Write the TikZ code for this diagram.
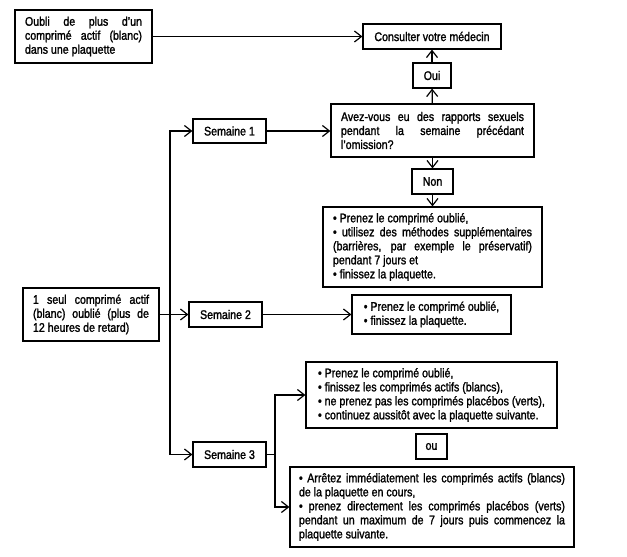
\documentclass[tikz,border=0pt]{standalone}
\usepackage{fontspec}
\setmainfont{Liberation Sans}[FakeStretch=0.85,FakeBold=1.5]
\usetikzlibrary{arrows.meta}
\hyphenpenalty=10000
\exhyphenpenalty=10000
\begin{document}
\begin{tikzpicture}[x=1pt,y=-1pt,
  every node/.style={font=\fontsize{12.5}{14}\selectfont},
  box/.style={draw, line width=1.2pt, inner xsep=10pt, inner ysep=2pt, anchor=center},
  jbox/.style={box, align=justify},
  lbox/.style={box, align=left},
  cbox/.style={box, align=center},
  conn/.style={line width=1.2pt},
  arr/.style={conn, -{Straight Barb[length=7pt,width=11pt,line width=1.2pt]}}]
\useasboundingbox (0,0) rectangle (627,557);

\node[jbox, text width=117pt, minimum height=53pt] (A) at (83.5,36.5)
  {Oubli de plus d'un\linebreak comprimé actif (blanc)\linebreak dans une plaquette};
\node[cbox, minimum width=138pt, minimum height=25pt] (C) at (432,36.5) {Consulter votre médecin};
\node[cbox, inner xsep=2pt, minimum width=38pt, minimum height=25pt] (Oui) at (432,75.5) {Oui};
\node[jbox, text width=183pt, minimum height=53pt] (Q) at (432.5,130.5)
  {Avez-vous eu des rapports sexuels\linebreak pendant la semaine précédant\linebreak l'omission?};
\node[cbox, inner xsep=2pt, minimum width=41pt, minimum height=25pt] (Non) at (432.5,181.5) {Non};
\node[jbox, text width=199pt, minimum height=80pt] (B1) at (432.5,247)
  {• Prenez le comprimé oublié,\\ • utilisez des méthodes supplémentaires\linebreak (barrières, par exemple le préservatif)\linebreak pendant 7 jours et\\ • finissez la plaquette.};

\node[cbox, minimum width=73pt, minimum height=24pt] (S1) at (229.5,131) {Semaine 1};
\node[cbox, minimum width=73pt, minimum height=25pt] (S2) at (225.5,314.5) {Semaine 2};
\node[cbox, minimum width=73pt, minimum height=25pt] (S3) at (229.5,454.5) {Semaine 3};

\node[jbox, text width=116pt, minimum height=53pt] (L) at (91,314.5)
  {1 seul comprimé actif\linebreak (blanc) oublié (plus de\linebreak 12 heures de retard)};

\node[lbox, minimum width=159pt, minimum height=39pt] (B2) at (431.5,314.5)
  {• Prenez le comprimé oublié,\\ • finissez la plaquette.};
\node[lbox, inner xsep=6pt, minimum width=251pt, minimum height=66pt] (B3) at (431.5,395)
  {• Prenez le comprimé oublié,\\ • finissez les comprimés actifs (blancs),\\ • ne prenez pas les comprimés placébos (verts),\\ • continuez aussitôt avec la plaquette suivante.};
\node[cbox, inner xsep=2pt, minimum width=31pt, minimum height=25pt] (ou) at (431.5,446.5) {ou};
\node[jbox, inner xsep=9pt, text width=266pt, minimum height=80pt] (B4) at (432,507)
  {• Arrêtez immédiatement les comprimés actifs (blancs)\linebreak de la plaquette en cours,\\ • prenez directement les comprimés placébos (verts)\linebreak pendant un maximum de 7 jours puis commencez la\linebreak plaquette suivante.};

\coordinate (t) at (170,314.5);
\coordinate (f) at (275,454.5);

\draw[arr] (A) -- (C);
\draw[arr] (Oui) -- (C);
\draw[arr] (Q) -- (Oui);
\draw[arr] (Q) -- (Non);
\draw[arr] (Non) -- (B1);
\draw[arr] (S1.east) -- (S1.east -| Q.west);
\draw[arr] (L) -- (S2);
\draw[arr] (t) |- (S1.west);
\draw[arr] (t) |- (S3.west);
\draw[arr] (S2) -- (B2);
\draw[conn] (S3.east) -- (f);
\draw[arr] (f) |- (B3.west);
\draw[arr] (f) |- (B4.west);
\end{tikzpicture}
\end{document}
